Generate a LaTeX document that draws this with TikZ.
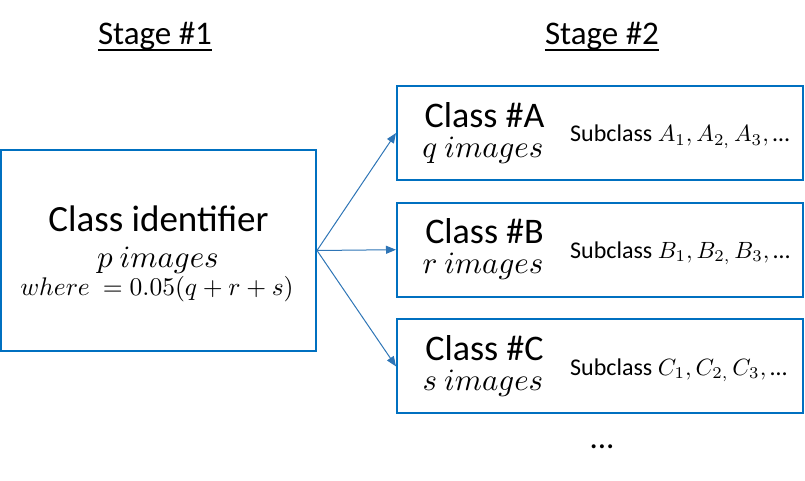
\documentclass[tikz,border=0pt]{standalone}
\usepackage[no-math]{fontspec}
\setmainfont{Carlito}
\usetikzlibrary{arrows.meta}
\definecolor{boxblue}{RGB}{0,112,192}
\definecolor{arrblue}{RGB}{46,117,182}
\newcommand{\scmath}[2]{\scalebox{#1}{\normalsize$#2$}}
\begin{document}
\begin{tikzpicture}[x=1pt,y=-1pt,
  box/.style={draw=boxblue,line width=2pt,inner sep=0pt,rectangle},
  ttl/.style={font=\fontsize{33}{40}\selectfont,anchor=base,inner sep=0pt},
  big/.style={font=\fontsize{36}{40}\selectfont,anchor=base,inner sep=0pt,text depth=0pt},
  mathl/.style={anchor=base,inner sep=0pt},
  sub/.style={font=\fontsize{24}{30}\selectfont,anchor=base west,inner sep=0pt},
  arr/.style={draw=arrblue,line width=1pt,-{Triangle[length=10pt,width=8pt]}},
  uline/.style={line width=2pt}]
\useasboundingbox (0,0) rectangle (805,481);
% titles
\node[ttl] (s1) at (155,45) {Stage \#1};
\node[ttl] (s2) at (602,45) {Stage \#2};
\draw[uline] ([yshift=-5pt]s1.base west) -- ([yshift=-5pt]s1.base east);
\draw[uline] ([yshift=-5pt]s2.base west) -- ([yshift=-5pt]s2.base east);
% left box
\node[box,minimum width=315pt,minimum height=201pt] (id) at (158.5,250.5) {};
\node[big,font=\fontsize{37}{40}\selectfont] (idt) at (158.5,231) {Class identifier};
\node[mathl] (idp) at (158,267) {\scmath{3.1}{p\ images}};
\node[mathl] (idw) at (157,295) {\scmath{2.55}{where\ = 0.05(q+r+s)}};
% right boxes
\node[box,minimum width=406pt,minimum height=94pt] (A) at (600,133) {};
\node[box,minimum width=406pt,minimum height=94pt] (B) at (600,249.7) {};
\node[box,minimum width=406pt,minimum height=94pt] (C) at (600,366.4) {};
\node[big] (At) at (484.5,127.2) {Class \#A};
\node[mathl] (Ai) at (483,157.2) {\scmath{3.1}{q\ images}};
\node[sub] (As) at (570,141.7) {Subclass \scmath{2.35}{A_1, A_{2,}\,A_3,}\,…};
\node[big] (Bt) at (484.5,243.9) {Class \#B};
\node[mathl] (Bi) at (483,273.9) {\scmath{3.1}{r\ images}};
\node[sub] (Bs) at (570,258.4) {Subclass \scmath{2.35}{B_1, B_{2,}\,B_3,}\,…};
\node[big] (Ct) at (484.5,360.6) {Class \#C};
\node[mathl] (Ci) at (483,390.6) {\scmath{3.1}{s\ images}};
\node[sub] (Cs) at (570,375.1) {Subclass \scmath{2.35}{C_1, C_{2,}\,C_3,}\,…};
\node[ttl] (dots) at (602,448) {...};
% arrows
\draw[arr] (id.east) -- (A.west);
\draw[arr] (id.east) -- (B.west);
\draw[arr] (id.east) -- (C.west);
\end{tikzpicture}
\end{document}
